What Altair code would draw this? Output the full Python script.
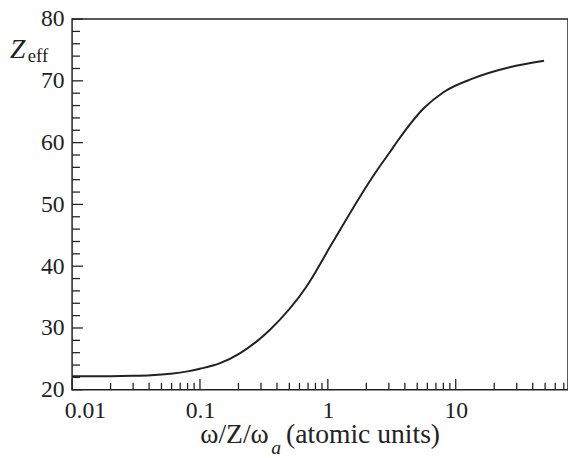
import altair as alt
import pandas as pd

# ---- data ----
omega = [0.01, 0.02, 0.03, 0.0414, 0.059, 0.08, 0.1, 0.1436, 0.205, 0.275,
         0.348, 0.671, 1.08, 1.84, 2.44, 3.04, 3.52, 5.65, 8.07, 13.7, 26.4, 49.1]
zeff = [22.2, 22.2, 22.25, 22.35, 22.6, 22.98, 23.4, 24.3, 25.9, 27.75,
        29.6, 36.5, 43.7, 51.7, 55.6, 58.4, 60.3, 65.6, 68.2, 70.4, 72.2, 73.25]

x_major = [0.01, 0.1, 1, 10]
x_minor = [m * d for d in (0.01, 0.1, 1, 10) for m in range(2, 10) if m * d < 75]
y_major = [20, 30, 40, 50, 60, 70, 80]
y_minor = [v for v in range(22, 80, 2) if v % 10 != 0]

W, H = 503, 376
FONT = "Liberation Serif"
INK = "#222222"

xscale = alt.Scale(type="log", domain=[0.01, 75.5], nice=False)
yscale = alt.Scale(domain=[20, 80], nice=False, zero=False)

xaxis = alt.Axis(
    values=x_major, format="~g", title=None, grid=False, ticks=False, tickSize=0,
    domain=False, labelFont=FONT, labelFontSize=24, labelColor=INK,
    labelPadding=9, labelFlush=True, labelFlushOffset=8)
yaxis = alt.Axis(
    values=y_major, title=None, grid=False, ticks=False, tickSize=0,
    domain=False, labelFont=FONT, labelFontSize=24, labelColor=INK,
    labelPadding=8)

curve_df = pd.DataFrame({"w": omega, "z": zeff})

line = alt.Chart(curve_df).mark_line(
    color=INK, strokeWidth=2, interpolate="monotone"
).encode(
    x=alt.X("w:Q", scale=xscale, axis=xaxis),
    y=alt.Y("z:Q", scale=yscale, axis=yaxis),
)

ytick_major = alt.Chart(pd.DataFrame({"z": y_major})).mark_rule(
    color=INK, strokeWidth=1.3).encode(
    y=alt.Y("z:Q", scale=yscale, axis=yaxis), x=alt.value(0), x2=alt.value(11))
ytick_minor = alt.Chart(pd.DataFrame({"z": y_minor})).mark_rule(
    color=INK, strokeWidth=1.3).encode(
    y=alt.Y("z:Q", scale=yscale, axis=yaxis), x=alt.value(0), x2=alt.value(8))
xtick_major = alt.Chart(pd.DataFrame({"w": x_major})).mark_rule(
    color=INK, strokeWidth=1.3).encode(
    x=alt.X("w:Q", scale=xscale, axis=xaxis), y=alt.value(H), y2=alt.value(H - 11))
xtick_minor = alt.Chart(pd.DataFrame({"w": x_minor})).mark_rule(
    color=INK, strokeWidth=1.3).encode(
    x=alt.X("w:Q", scale=xscale, axis=xaxis), y=alt.value(H), y2=alt.value(H - 7))


def label(text, x, y, size, style="normal"):
    return alt.Chart(pd.DataFrame({"t": [text]})).mark_text(
        font=FONT, fontSize=size, fontStyle=style, color=INK,
        align="left", baseline="alphabetic"
    ).encode(x=alt.value(x), y=alt.value(y), text="t:N")


titles = [
    label("Z", -63, 39, 28, "italic"),
    label("eff", -45, 44, 19),
    label("ω/Z/ω", 130, 430, 28),
    label("a", 202, 441, 20, "italic"),
    label("(atomic units)", 217, 430, 28),
]

chart = alt.layer(
    line, ytick_major, ytick_minor, xtick_major, xtick_minor, *titles
).properties(
    width=W, height=H,
    autosize=alt.AutoSizeParams(type="none"),
    padding={"left": 65, "top": 8, "right": 0, "bottom": 66},
    background="white",
).configure_view(stroke=INK, strokeWidth=1.5)

chart.save("out.html", embed_options={"renderer": "svg", "actions": False})
